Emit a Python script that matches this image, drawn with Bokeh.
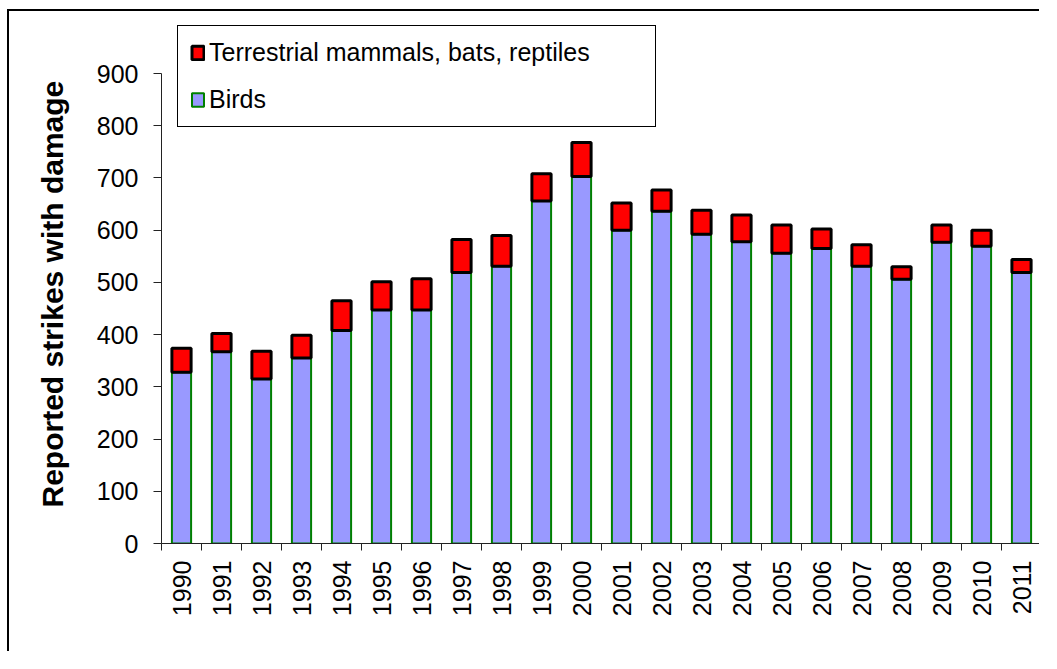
import math
from bokeh.plotting import figure
from bokeh.layouts import column
from bokeh.models import ColumnDataSource, FixedTicker, Legend, LegendItem, Range1d, Title
from bokeh.embed import file_html
from bokeh.resources import INLINE

years = ["1990", "1991", "1992", "1993", "1994", "1995", "1996", "1997", "1998", "1999", "2000",
         "2001", "2002", "2003", "2004", "2005", "2006", "2007", "2008", "2009", "2010", "2011"]
birds = [328, 367, 315, 355, 408, 447, 447, 519, 531, 656, 703,
         600, 636, 592, 578, 556, 565, 531, 506, 577, 569, 519]
others = [46, 35, 53, 44, 57, 54, 60, 63, 59, 52, 65,
          52, 41, 46, 51, 54, 37, 41, 24, 33, 31, 25]
y_ticks = [0, 100, 200, 300, 400, 500, 600, 700, 800, 900]

FONT = "Liberation Sans"

xs = list(range(len(years)))
totals = [b + o for b, o in zip(birds, others)]
src = ColumnDataSource(dict(x=xs, birds=birds, total=totals))

# frame: 532 px tall, value 900 sits 470 px above the baseline
y_top = 900 * 532 / 470

p = figure(width=1032, height=642, output_backend="svg", toolbar_location=None,
           x_range=Range1d(-0.5, len(years) - 0.5), y_range=Range1d(0, y_top),
           min_border_left=152, min_border_right=0, min_border_top=0, min_border_bottom=110)
p.styles = {"border-top": "2px solid #000", "border-left": "2px solid #000"}
p.outline_line_color = None
p.xgrid.visible = False
p.ygrid.visible = False
p.background_fill_color = "white"
p.border_fill_color = "white"

r_birds = p.vbar(x="x", bottom=0, top="birds", width=0.48, source=src,
                 fill_color="#9999FF", line_color="#008000", line_width=2)
r_other = p.vbar(x="x", bottom="birds", top="total", width=0.48, source=src,
                 fill_color="#FF0000", line_color="#000000", line_width=3)

# x axis
xa = p.xaxis[0]
xa.ticker = FixedTicker(ticks=xs, minor_ticks=[i - 0.5 for i in range(len(years) + 1)])
xa.major_label_overrides = {i: y for i, y in enumerate(years)}
xa.major_label_orientation = math.pi / 2
xa.major_tick_out = 0
xa.major_tick_in = 0
xa.minor_tick_out = 7
xa.minor_tick_in = 0
xa.minor_tick_line_color = "#222222"
xa.axis_line_color = "#222222"
xa.major_label_text_font = FONT
xa.major_label_text_font_size = "25px"
xa.major_label_text_color = "#000000"
xa.major_label_standoff = 10

# y axis
ya = p.yaxis[0]
ya.ticker = FixedTicker(ticks=y_ticks)
ya.bounds = (0, 900)
ya.minor_tick_line_color = None
ya.major_tick_out = 8
ya.major_tick_in = 0
ya.major_tick_line_color = "#222222"
ya.axis_line_color = "#222222"
ya.major_label_text_font = FONT
ya.major_label_text_font_size = "25px"
ya.major_label_text_color = "#000000"
ya.major_label_standoff = 15

ytitle = Title(text="Reported strikes with damage", align="left", vertical_align="top",
               offset=36, standoff=46, text_font=FONT, text_font_size="30px",
               text_font_style="bold", text_color="#000000")
p.add_layout(ytitle, "left")

legend = Legend(items=[LegendItem(label="Terrestrial mammals, bats, reptiles", renderers=[r_other]),
                       LegendItem(label="Birds", renderers=[r_birds])],
                location=(16, 416), orientation="vertical")
legend.border_line_color = "#000000"
legend.border_line_alpha = 1.0
legend.border_line_width = 1
legend.background_fill_color = "white"
legend.background_fill_alpha = 1
legend.label_text_font = FONT
legend.label_text_font_size = "25px"
legend.label_text_color = "#000000"
legend.glyph_width = 15
legend.glyph_height = 17
legend.label_height = 26
legend.label_standoff = 4
legend.spacing = 18
legend.padding = 12
legend.margin = 0
legend.label_width = 434
p.add_layout(legend, "center")

layout = column(p, styles={"padding-left": "7px", "padding-top": "9px", "background-color": "white"})

open("out.html", "w").write(file_html(layout, INLINE))
